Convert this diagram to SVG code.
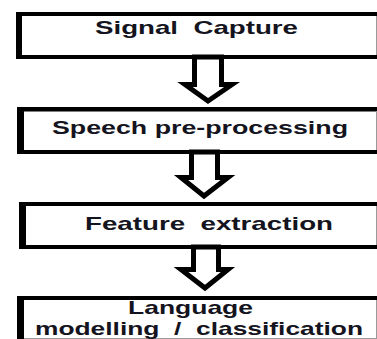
<svg xmlns="http://www.w3.org/2000/svg" width="377" height="339" viewBox="0 0 377 339">
  <style>
    .bg { fill: #ffffff; }
    .edge { fill: #000000; }
    .rim { stroke: #9a9a9a; stroke-width: 1; }
    .label { font-family: "Liberation Sans", Arial, sans-serif; font-weight: bold; font-size: 18.5px; fill: #141420; white-space: pre; }
    .flow { fill: #ffffff; stroke: #000000; stroke-width: 5; stroke-linejoin: miter; stroke-miterlimit: 10; }
  </style>
  <rect x="0" y="0" width="377" height="339" class="bg"/>

  <!-- Processing stages: thick left/top/bottom borders, thin right rim -->
  <g id="stage-signal-capture">
    <rect x="16" y="12" width="361" height="47" class="bg"/>
    <rect x="16" y="12" width="361" height="4" class="edge"/>
    <rect x="16" y="55" width="361" height="4" class="edge"/>
    <rect x="16" y="12" width="6" height="47" class="edge"/>
    <line x1="376.5" y1="16" x2="376.5" y2="55" class="rim"/>
    <text x="95" y="34" class="label" xml:space="preserve" textLength="203" lengthAdjust="spacingAndGlyphs">Signal  Capture</text>
  </g>

  <g id="stage-pre-processing">
    <rect x="17" y="107" width="360" height="47" class="bg"/>
    <rect x="17" y="107" width="360" height="4.5" class="edge"/>
    <rect x="17" y="150" width="360" height="4" class="edge"/>
    <rect x="17" y="107" width="7" height="47" class="edge"/>
    <line x1="376.5" y1="111" x2="376.5" y2="150" class="rim"/>
    <text x="52" y="134" class="label" textLength="296" lengthAdjust="spacingAndGlyphs">Speech pre-processing</text>
  </g>

  <g id="stage-feature-extraction">
    <rect x="19" y="202" width="358" height="47" class="bg"/>
    <rect x="19" y="202" width="358" height="4" class="edge"/>
    <rect x="19" y="245" width="358" height="4" class="edge"/>
    <rect x="19" y="202" width="7" height="47" class="edge"/>
    <line x1="376.5" y1="206" x2="376.5" y2="245" class="rim"/>
    <text x="85" y="230" class="label" xml:space="preserve" textLength="248" lengthAdjust="spacingAndGlyphs">Feature  extraction</text>
  </g>

  <g id="stage-classification">
    <rect x="17" y="296" width="360" height="43" class="bg"/>
    <rect x="17" y="296" width="360" height="4" class="edge"/>
    <rect x="17" y="296" width="7" height="43" class="edge"/>
    <line x1="376.5" y1="300" x2="376.5" y2="339" class="rim"/>
    <line x1="24" y1="338.5" x2="377" y2="338.5" class="rim"/>
    <text x="128" y="314" class="label" textLength="125" lengthAdjust="spacingAndGlyphs">Language</text>
    <text x="35" y="335" class="label" xml:space="preserve" textLength="328" lengthAdjust="spacingAndGlyphs">modelling  /  classification</text>
  </g>

  <!-- Hollow block arrows between stages -->
  <g id="connectors">
    <polygon class="flow" points="194.5,57 221.5,57 221.5,84.5 232,84.5 208,101 185,84.5 194.5,84.5"/>
    <polygon class="flow" points="191.5,152 217.5,152 217.5,177.5 228,177.5 204,196 181,177.5 191.5,177.5"/>
    <polygon class="flow" points="193.5,247 218.5,247 218.5,269.5 228,269.5 205,288 181,269.5 193.5,269.5"/>
  </g>
</svg>
